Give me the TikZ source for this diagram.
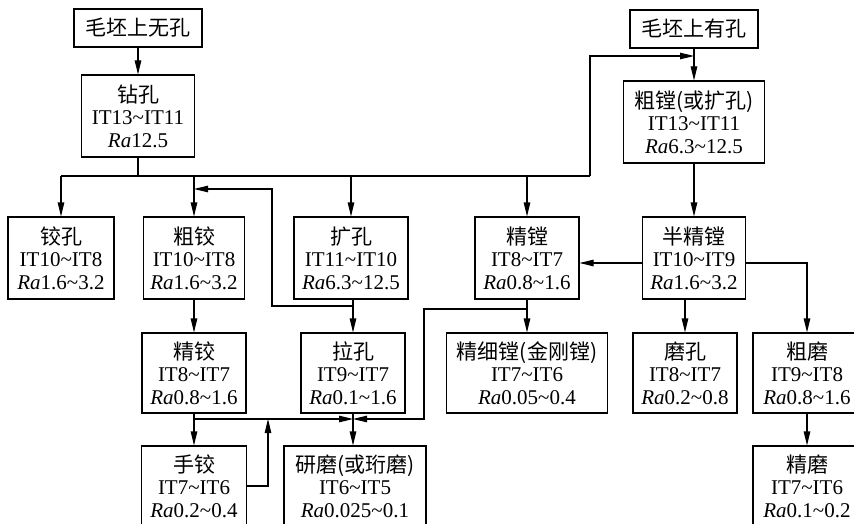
\documentclass[tikz,border=0pt]{standalone}
\usepackage{fontspec}
\setmainfont{Liberation Serif}
\newfontfamily\cjk{Noto Sans CJK SC}
\usetikzlibrary{arrows.meta}
\newcommand\tld{\textasciitilde}
\tikzset{
  ln/.style={line width=1.1pt, draw=black},
  arr/.style={ln, -{Triangle[length=14pt,width=6.5pt]}},
  bx/.style={draw, line width=1.1pt, align=center, inner sep=0pt,
    font=\fontsize{21}{22.5}\selectfont},
}
\begin{document}
\begin{tikzpicture}[x=1pt,y=-1pt]
\useasboundingbox (0,0) rectangle (854,524);
\clip (0,0) rectangle (854,524);
\fill[white] (0,0) rectangle (854,524);
% top
\node[bx,minimum width=128pt,minimum height=38pt] (n0) at (138,28) {\cjk 毛坯上无孔};
\node[bx,minimum width=113pt,minimum height=82pt] (zk) at (138,116) {{\cjk 钻孔}\\IT13\tld IT11\\\textit{Ra}12.5};
\node[bx,minimum width=128pt,minimum height=38pt] (n1) at (694,29) {\cjk 毛坯上有孔};
\node[bx,minimum width=141pt,minimum height=82pt] (cb) at (694,122) {{\cjk 粗镗(或扩孔)}\\IT13\tld IT11\\\textit{Ra}6.3\tld 12.5};
% row 2
\node[bx,minimum width=106pt,minimum height=82pt] (jk) at (61,258) {{\cjk 铰孔}\\IT10\tld IT8\\\textit{Ra}1.6\tld 3.2};
\node[bx,minimum width=101pt,minimum height=82pt] (cj) at (194,258) {{\cjk 粗铰}\\IT10\tld IT8\\\textit{Ra}1.6\tld 3.2};
\node[bx,minimum width=114pt,minimum height=82pt] (kk) at (351,258) {{\cjk 扩孔}\\IT11\tld IT10\\\textit{Ra}6.3\tld 12.5};
\node[bx,minimum width=104pt,minimum height=82pt] (jt) at (527,258) {{\cjk 精镗}\\IT8\tld IT7\\\textit{Ra}0.8\tld 1.6};
\node[bx,minimum width=103pt,minimum height=82pt] (bjt) at (694,258) {{\cjk 半精镗}\\IT10\tld IT9\\\textit{Ra}1.6\tld 3.2};
% row 3
\node[bx,minimum width=104pt,minimum height=80pt] (jj) at (194,373) {{\cjk 精铰}\\IT8\tld IT7\\\textit{Ra}0.8\tld 1.6};
\node[bx,minimum width=104pt,minimum height=80pt] (lk) at (353,373) {{\cjk 拉孔}\\IT9\tld IT7\\\textit{Ra}0.1\tld 1.6};
\node[bx,minimum width=161pt,minimum height=80pt] (jxt) at (527,373) {{\cjk 精细镗(金刚镗)}\\IT7\tld IT6\\\textit{Ra}0.05\tld 0.4};
\node[bx,minimum width=104pt,minimum height=80pt] (mk) at (685,373) {{\cjk 磨孔}\\IT8\tld IT7\\\textit{Ra}0.2\tld 0.8};
\node[bx,minimum width=108pt,minimum height=80pt] (cm) at (807,373) {{\cjk 粗磨}\\IT9\tld IT8\\\textit{Ra}0.8\tld 1.6};
% row 4
\node[bx,minimum width=105pt,minimum height=80pt] (sj) at (194,486) {{\cjk 手铰}\\IT7\tld IT6\\\textit{Ra}0.2\tld 0.4};
\node[bx,minimum width=142pt,minimum height=80pt] (ym) at (355,486) {{\cjk 研磨(或珩磨)}\\IT6\tld IT5\\\textit{Ra}0.025\tld 0.1};
\node[bx,minimum width=108pt,minimum height=80pt] (jm) at (807,486) {{\cjk 精磨}\\IT7\tld IT6\\\textit{Ra}0.1\tld 0.2};
% bend points
\coordinate (busL) at (61,176);
\coordinate (busR) at (590,176);
\coordinate (topR) at (590,56);
\coordinate (f1) at (272,306);
\coordinate (f2) at (272,189);
\coordinate (g1) at (424,309);
\coordinate (g2) at (424,419);
\coordinate (s1) at (268,486);
\coordinate (r1) at (807,263);
% connectors
\draw[arr] (n0) -- (zk);
\draw[ln] (zk.south) -- (zk.south |- busL);
\draw[ln] (busL) -- (busR);
\draw[arr] (busR) -- (topR) -- (topR -| n1.south);
\draw[arr] (busL) -- (jk.north);
\draw[arr] (cj.north |- busL) -- (cj.north);
\draw[arr] (kk.north |- busL) -- (kk.north);
\draw[arr] (jt.north |- busL) -- (jt.north);
\draw[arr] (n1) -- (cb);
\draw[arr] (cb) -- (bjt);
\draw[arr] ([yshift=-5pt]bjt.west) -- ([yshift=-5pt]jt.east);
\draw[arr] ([yshift=-5pt]bjt.east) -- (r1) -- (cm.north);
\draw[arr] (mk.north |- bjt.south) -- (mk.north);
\draw[arr] (cm) -- (jm);
\draw[arr] (cj) -- (jj);
\draw[arr] (lk.north |- kk.south) -- (lk.north);
\draw[arr] (lk.north |- f1) -- (f1) -- (f2) -- (f2 -| cj.north);
\draw[arr] (jt) -- (jxt);
\draw[arr] (jt.south |- g1) -- (g1) -- (g2) -- (lk.south |- g2);
\draw[arr] (jj.south |- g2) -- (lk.south |- g2);
\draw[arr] (lk.south) -- (lk.south |- ym.north);
\draw[arr] (jj) -- (sj);
\draw[arr] (sj.east |- s1) -- (s1) -- (s1 |- g2);
\end{tikzpicture}
\end{document}
